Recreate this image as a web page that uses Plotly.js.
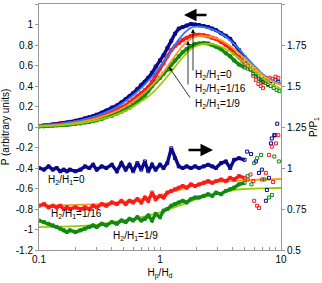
<!DOCTYPE html>
<html><head><meta charset="utf-8">
<script src="https://cdn.plot.ly/plotly-3.0.1.min.js"></script>
<style>html,body{margin:0;padding:0;background:#fff}#c{width:322px;height:283px}</style>
</head><body><div id="c"></div>
<script>
// Dense measurement abscissa Hp/Hd
var xDense = [0.10,0.11,0.12,0.13,0.14,0.15,0.16,0.17,0.18,0.20,0.22,0.24,0.26,0.28,0.30,0.33,0.36,0.40,0.44,0.48,0.52,0.56,0.60,0.65,0.70,0.75,0.80,0.86,0.92,1.00,1.07,1.15,1.24,1.33,1.43,1.54,1.66,1.80,1.95,2.10,2.30,2.50,2.70,2.90,3.20,3.50,3.80,4.10,4.50,5.00];
// P (arbitrary units), left axis
var pBlue  = [0.01,0.015,0.02,0.025,0.03,0.035,0.04,0.045,0.05,0.06,0.07,0.085,0.095,0.105,0.12,0.14,0.16,0.19,0.21,0.24,0.27,0.30,0.33,0.37,0.41,0.44,0.48,0.53,0.59,0.65,0.70,0.77,0.84,0.91,0.96,0.975,0.99,1.005,1.0,0.995,0.985,0.975,0.96,0.945,0.915,0.89,0.86,0.81,0.75,0.68];
var pRed   = [0.01,0.012,0.015,0.02,0.022,0.025,0.03,0.033,0.036,0.045,0.05,0.06,0.07,0.08,0.09,0.105,0.12,0.145,0.165,0.19,0.21,0.24,0.265,0.30,0.33,0.36,0.39,0.44,0.50,0.57,0.62,0.69,0.75,0.79,0.82,0.85,0.87,0.89,0.90,0.90,0.895,0.885,0.87,0.86,0.83,0.80,0.77,0.72,0.68,0.62];
var pGreen = [0.005,0.007,0.01,0.012,0.015,0.017,0.02,0.022,0.025,0.03,0.035,0.043,0.05,0.057,0.065,0.08,0.095,0.11,0.13,0.15,0.17,0.19,0.215,0.245,0.28,0.31,0.35,0.40,0.44,0.48,0.52,0.56,0.61,0.65,0.69,0.73,0.76,0.79,0.81,0.815,0.82,0.815,0.80,0.785,0.76,0.72,0.69,0.65,0.61,0.58];
// sparse tail (P)
var xBlueTail  = [5.3,5.6,5.9,6.2,6.5,6.8,7.1,7.4,7.8,8.2,8.6,9.0,9.5];
var pBlueTail  = [0.64,0.60,0.55,0.52,0.50,0.46,0.44,0.48,0.42,0.45,0.43,0.46,0.44];
var xRedTail   = [5.3,5.6,5.9,6.2,6.5,6.8,7.1,7.5,8.0,8.5,9.0,9.5];
var pRedTail   = [0.59,0.56,0.50,0.46,0.42,0.40,0.38,0.45,0.48,0.47,0.49,0.48];
var xGreenTail = [5.3,5.6,5.9,6.2,6.6,7.0,7.4,7.8,8.2,8.7,9.2,9.7];
var pGreenTail = [0.57,0.56,0.52,0.50,0.47,0.45,0.43,0.41,0.40,0.38,0.36,0.35];
// fitted curves (P)
var xFit = [0.1,0.15,0.2,0.3,0.4,0.5,0.6,0.7,0.8,0.9,1.0,1.2,1.4,1.6,1.8,2.0,2.3,2.6,3.0,3.5,4.0,4.5,5.0,6.0,7.0,8.0,9.0,10];
var fitBlue  = [0.01,0.03,0.055,0.11,0.17,0.24,0.31,0.38,0.45,0.52,0.59,0.72,0.84,0.92,0.97,0.98,0.975,0.96,0.93,0.88,0.82,0.76,0.70,0.60,0.52,0.47,0.44,0.42];
var fitRed   = [0.01,0.02,0.04,0.085,0.135,0.19,0.25,0.31,0.37,0.43,0.49,0.62,0.73,0.81,0.86,0.885,0.89,0.88,0.86,0.82,0.77,0.72,0.67,0.58,0.51,0.46,0.43,0.41];
var fitGreen = [0.005,0.015,0.03,0.065,0.105,0.15,0.2,0.25,0.3,0.35,0.41,0.52,0.62,0.70,0.76,0.79,0.81,0.81,0.795,0.76,0.72,0.67,0.63,0.55,0.48,0.43,0.40,0.37];
// P/P1 ratio, right axis
var rBlue  = [1.00,0.99,1.01,0.99,1.00,0.98,0.99,0.98,0.99,0.98,0.99,1.01,1.00,1.02,0.99,1.01,1.00,1.02,0.98,1.03,0.99,1.02,0.98,1.03,0.99,1.04,0.98,1.02,0.99,1.02,1.00,1.03,1.12,1.06,1.01,1.00,1.01,1.00,1.01,1.00,1.01,1.02,1.01,1.00,1.03,1.04,1.00,1.05,1.06,1.05];
var rRed   = [0.77,0.78,0.76,0.77,0.76,0.77,0.75,0.76,0.75,0.76,0.75,0.76,0.75,0.77,0.76,0.78,0.77,0.79,0.78,0.80,0.78,0.80,0.79,0.81,0.79,0.82,0.80,0.85,0.81,0.83,0.82,0.85,0.86,0.87,0.88,0.89,0.88,0.90,0.89,0.90,0.91,0.92,0.91,0.92,0.93,0.92,0.94,0.93,0.95,0.94];
var rGreen = [0.68,0.67,0.66,0.65,0.64,0.63,0.62,0.61,0.62,0.61,0.62,0.63,0.64,0.65,0.64,0.66,0.65,0.67,0.66,0.68,0.67,0.69,0.68,0.70,0.68,0.69,0.71,0.68,0.72,0.70,0.74,0.75,0.77,0.78,0.79,0.80,0.79,0.81,0.82,0.82,0.83,0.84,0.83,0.85,0.84,0.86,0.87,0.88,0.90,0.91];
var xRBlueTail  = [5.25,5.66,6.2,6.57,6.95,7.5,7.65,7.95,8.26,8.4,8.8,8.95,9.3];
var rBlueTail   = [1.10,1.085,1.04,0.97,0.99,0.80,0.866,0.94,1.15,1.18,1.20,1.2,1.27];
var xRRedTail   = [5.3,5.6,5.9,6.0,6.35,6.57,7.0,7.5,7.95,8.4,8.6,9.1,9.5];
var rRedTail    = [0.93,0.96,0.92,0.80,0.77,0.756,0.93,0.97,1.08,1.13,0.915,1.15,1.2];
var xRGreenTail = [5.3,5.7,6.0,6.35,6.85,7.3,7.95,8.4,8.8,9.6];
var rGreenTail  = [0.95,0.90,1.03,1.06,1.08,0.93,0.82,0.835,1.07,1.04];
var xFit2 = [0.1,0.2,0.3,0.5,0.7,1,1.5,2,3,4,5,7,10];
var rFitRed   = [0.77,0.775,0.78,0.795,0.81,0.835,0.87,0.895,0.915,0.92,0.925,0.93,0.933];
var rFitGreen = [0.64,0.645,0.655,0.68,0.70,0.73,0.775,0.81,0.845,0.865,0.872,0.876,0.878];
// tick labels
var yTickVals = [-1.2,-1,-0.8,-0.6,-0.4,-0.2,0,0.2,0.4,0.6,0.8,1,1.2];
var yTickText = ["-1.2","-1","-0.8","-0.6","-0.4","-0.2","0","0.2","0.4","0.6","0.8","1","1.2"];
var y2TickVals = [0.5,0.75,1,1.25,1.5,1.75,2];
var y2TickText = ["0.5","0.75","1","1.25","1.5","1.75","2"];

var NAVY='#0a0a8c', RED='#ff1a1a', GREEN='#118a11', LBLUE='#3377ff', ORANGE='#ff9a1a', YGREEN='#99cc00';
function dense(x,y,c,ax){return {x:x,y:y,yaxis:ax,type:'scatter',mode:'lines+markers',line:{color:c,width:3.4},marker:{symbol:'square-open',size:3,color:c,line:{width:1,color:c}},hoverinfo:'skip'};}
function sparse(x,y,c,ax){return {x:x,y:y,yaxis:ax,type:'scatter',mode:'markers',marker:{symbol:'square-open',size:3,color:c,line:{width:1,color:c}},hoverinfo:'skip'};}
function fit(x,y,c,ax){return {x:x,y:y,yaxis:ax,type:'scatter',mode:'lines',line:{color:c,width:1.8,shape:'spline'},hoverinfo:'skip'};}

var data = [
  fit(xFit2,rFitRed,ORANGE,'y2'), fit(xFit2,rFitGreen,YGREEN,'y2'),
  dense(xDense,pBlue,NAVY,'y'), dense(xDense,pRed,RED,'y'), dense(xDense,pGreen,GREEN,'y'),
  sparse(xBlueTail,pBlueTail,NAVY,'y'), sparse(xRedTail,pRedTail,RED,'y'), sparse(xGreenTail,pGreenTail,GREEN,'y'),
  fit(xFit,fitBlue,LBLUE,'y'), fit(xFit,fitRed,ORANGE,'y'), fit(xFit,fitGreen,YGREEN,'y'),
  dense(xDense,rBlue,NAVY,'y2'), dense(xDense,rRed,RED,'y2'), dense(xDense,rGreen,GREEN,'y2'),
  sparse(xRBlueTail,rBlueTail,NAVY,'y2'), sparse(xRRedTail,rRedTail,RED,'y2'), sparse(xRGreenTail,rGreenTail,GREEN,'y2')
];

var L=39,R=281,T=4,B=250;
function px(v){return (v-L)/(R-L);} function py(v){return (B-v)/(B-T);}
function lbl(x,y,t){return {xref:'paper',yref:'paper',x:px(x),y:py(y),text:t,showarrow:false,xanchor:'left',yanchor:'middle',font:{size:10,color:'#000'}};}
function arr(hx,hy,tx,ty,w,head){return {xref:'paper',yref:'paper',x:px(hx),y:py(hy),ax:tx-hx,ay:ty-hy,text:'',showarrow:true,arrowhead:head,arrowsize:1,arrowwidth:w,arrowcolor:'#000',standoff:0,startstandoff:0};}
var H='H<sub>2</sub>/H<sub>1</sub>=';
var annotations=[
  lbl(193,75,H+'0'), lbl(193,89,H+'1/16'), lbl(193,104,H+'1/9'),
  lbl(46,180,H+'0'), lbl(49,214,H+'1/16'), lbl(111,236,H+'1/9'),
  arr(193,29,193,72,0.8,2), arr(188,41,188,86,0.8,2), arr(169,67,191,99,0.8,2),
  arr(184,15,208,15,2.5,2), arr(213,150,187,150,2.5,2)
];

var layout = {
  width:322, height:283, margin:{l:39,r:41,t:4,b:33},
  paper_bgcolor:'#fff', plot_bgcolor:'#fff', showlegend:false,
  font:{family:'"Liberation Sans", Arial, sans-serif', size:10, color:'#000'},
  xaxis:{type:'log', range:[-1,1], tickvals:[0.1,1,10], ticktext:['0.1','1','10'], ticks:'inside', ticklen:3, tickcolor:'#999',
    minor:{ticks:'inside', ticklen:3, tickcolor:'#999', tickvals:[0.2,0.3,0.4,0.5,0.6,0.7,0.8,0.9,2,3,4,5,6,7,8,9]},
    showgrid:false, zeroline:false, showline:true, linecolor:'#999', linewidth:1, mirror:true,
    title:{text:'H<sub>p</sub>/H<sub>d</sub>', font:{size:10}, standoff:4}},
  yaxis:{range:[-1.2,1.2], tickvals:yTickVals, ticktext:yTickText, ticks:'outside', ticklen:3, tickcolor:'#999',
    showgrid:false, zeroline:false, showline:true, linecolor:'#999', linewidth:1,
    title:{text:'P (arbitrary units)', font:{size:10}, standoff:4}},
  yaxis2:{overlaying:'y', side:'right', range:[0.5,2], tickvals:y2TickVals, ticktext:y2TickText, ticks:'outside', ticklen:3, tickcolor:'#999',
    showgrid:false, zeroline:false, showline:true, linecolor:'#999', linewidth:1,
    title:{text:'P/P<sub>1</sub>', font:{size:10}, standoff:4}},
  annotations:annotations
};
Plotly.newPlot('c', data, layout, {staticPlot:true, displayModeBar:false});
</script></body></html>
